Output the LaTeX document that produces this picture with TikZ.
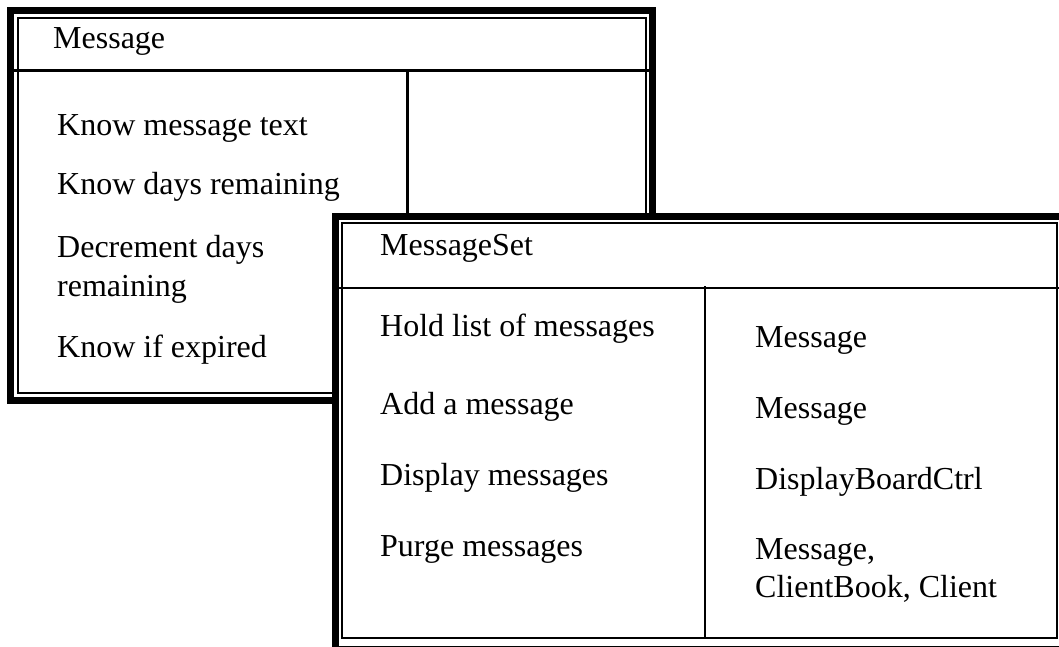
\documentclass[tikz,border=0pt]{standalone}
\usepackage{fontspec}
\setmainfont{Liberation Serif}
\begin{document}
\begin{tikzpicture}[x=1pt,y=-1pt,
  txt/.style={anchor=base west, inner sep=0pt, font=\fontsize{32}{38.4}\selectfont},
  thickframe/.style={line width=7pt, draw=black, fill=white},
  thinframe/.style={line width=2pt, draw=black},
  ruleA/.style={line width=3pt},
  ruleB/.style={line width=2pt}]
\clip (0,0) rectangle (1059,646);
\fill[white] (0,0) rectangle (1059,646);
% ---- card 1: Message
\draw[thickframe] (10.5,10.5) rectangle (652.5,400.5);
\draw[thinframe] (17.5,17.5) rectangle (645.5,392.5);
\draw[ruleA] (14,70) -- (649,70);
\draw[ruleA] (407,70) -- (407,398);
\node[txt] (m1) at (53,48) {Message};
\node[txt] (m1a) at (57,135) {Know message text};
\node[txt] (m1b) at (57,194) {Know days remaining};
\node[txt] (m1c) at (57,257) {Decrement days};
\node[txt] (m1d) at (57,296) {remaining};
\node[txt] (m1e) at (57,357) {Know if expired};
% ---- card 2: MessageSet
\draw[thickframe] (335.5,216.5) rectangle (1063.5,649.5);
\draw[thinframe] (342,222.5) rectangle (1056.5,638);
\draw[ruleB] (339,288) -- (1060,288);
\draw[ruleB] (705,286) -- (705,638);
\node[txt] (m2) at (380,255) {MessageSet};
\node[txt] (r1) at (380,336) {Hold list of messages};
\node[txt] (r2) at (380,414) {Add a message};
\node[txt] (r3) at (380,485) {Display messages};
\node[txt] (r4) at (380,556) {Purge messages};
\node[txt] (c1) at (755,347) {Message};
\node[txt] (c2) at (755,418) {Message};
\node[txt] (c3) at (755,489) {DisplayBoardCtrl};
\node[txt] (c4) at (755,559) {Message,};
\node[txt] (c5) at (755,597) {ClientBook, Client};
\end{tikzpicture}
\end{document}
